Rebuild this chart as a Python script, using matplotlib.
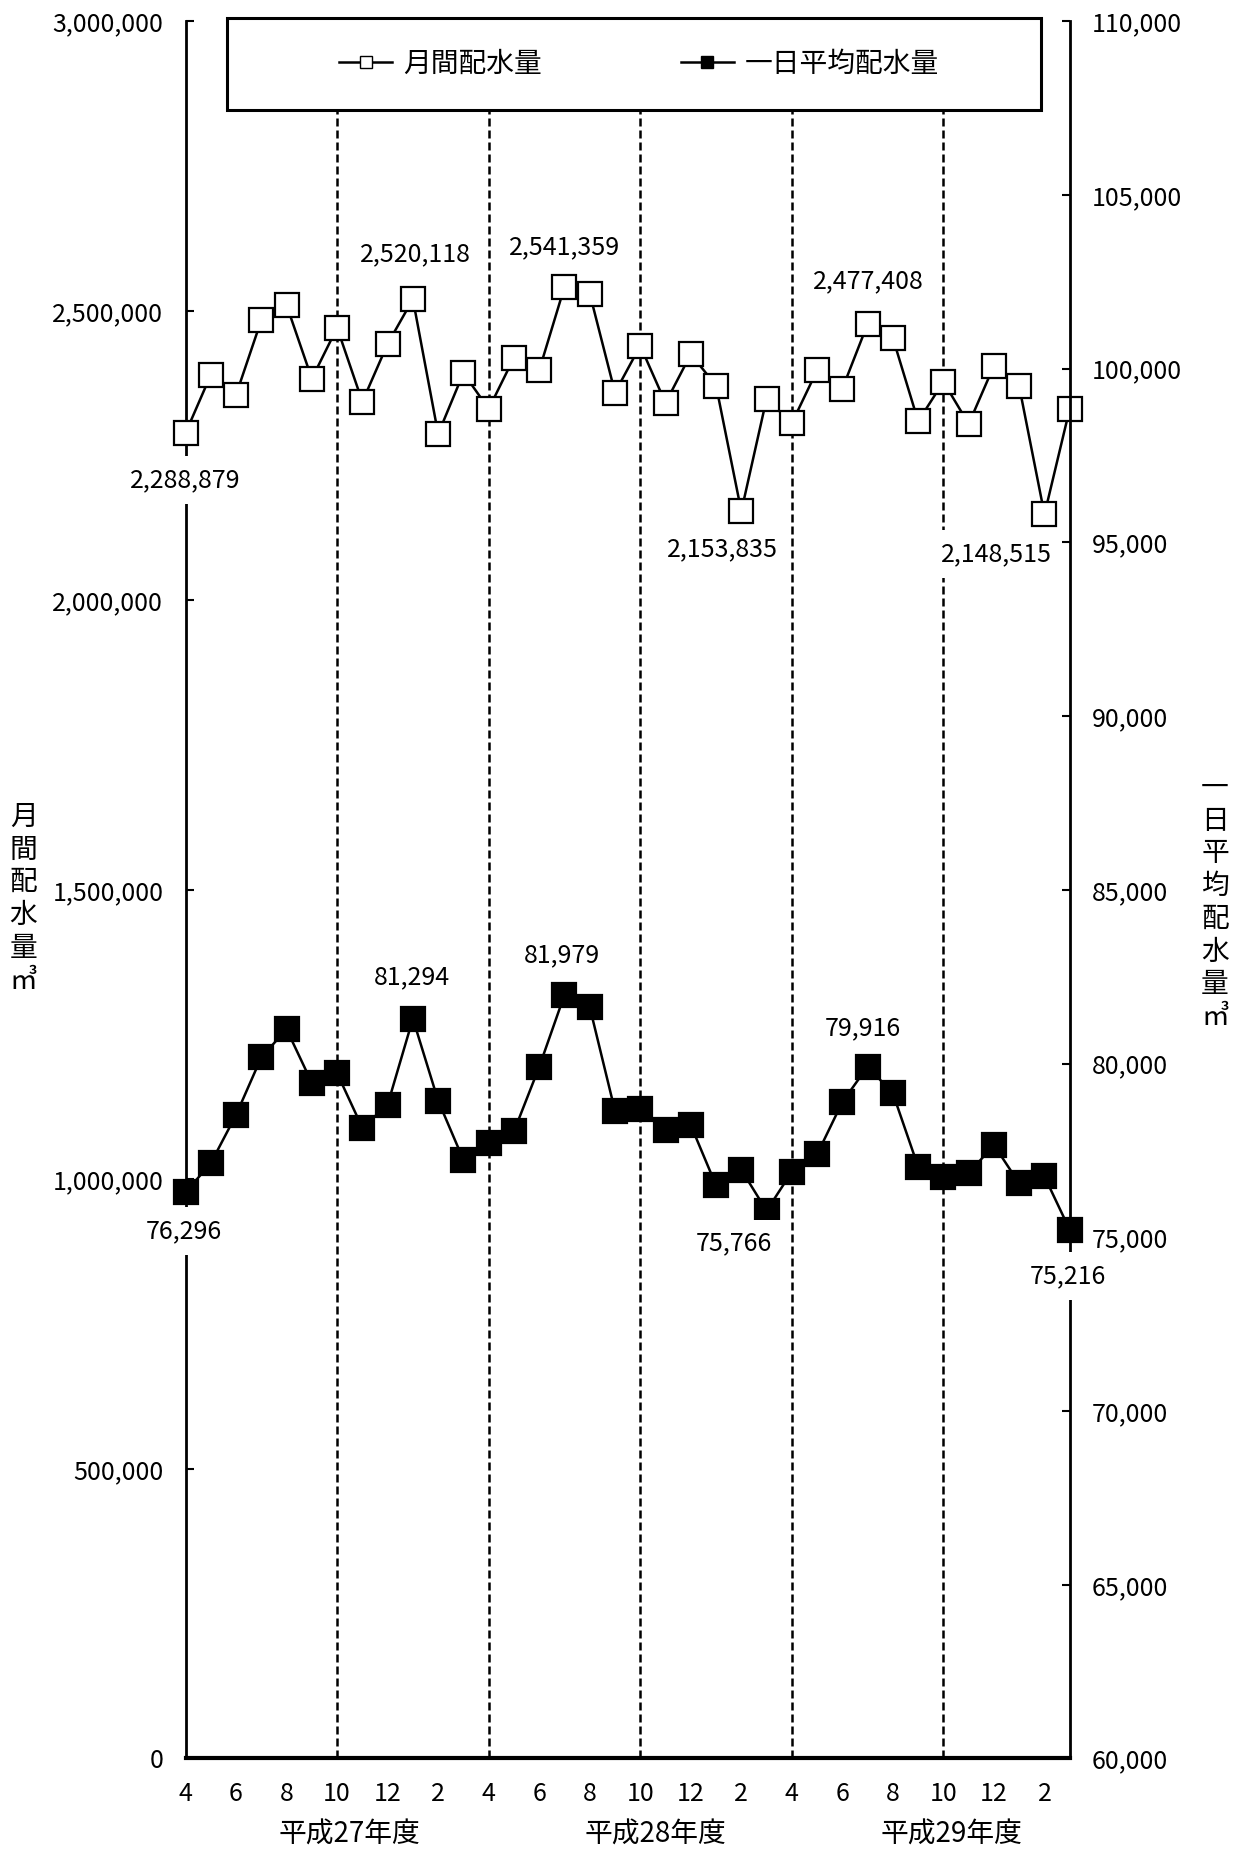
import numpy as np
import matplotlib
matplotlib.use("Agg")
import matplotlib.pyplot as plt
from matplotlib.lines import Line2D
from matplotlib.patches import Rectangle
from matplotlib.ticker import FuncFormatter
import matplotlib.transforms as mtransforms

plt.rcParams['font.family'] = ['Noto Sans CJK JP', 'DejaVu Sans']

# ---- data ----
month_labels = ["4", "", "6", "", "8", "", "10", "", "12", "", "2", ""] * 3
years = ["平成27年度", "平成28年度", "平成29年度"]

monthly = [2288879, 2389400, 2355000, 2484100, 2509900, 2382800,
           2470900, 2343000, 2443000, 2520118, 2287400, 2392700,
           2330500, 2419200, 2397400, 2541359, 2529800, 2358900,
           2439700, 2341000, 2425200, 2370900, 2153835, 2348300,
           2306000, 2397400, 2365600, 2477408, 2453000, 2309300,
           2377500, 2304600, 2405300, 2369500, 2148515, 2331100]

daily = [76296, 77133, 78524, 80181, 80990, 79448,
         79724, 78152, 78819, 81294, 78933, 77229,
         77705, 78048, 79905, 81979, 81629, 78638,
         78705, 78076, 78229, 76495, 76943, 75766,
         76886, 77390, 78895, 79916, 79143, 77029,
         76724, 76848, 77657, 76552, 76752, 75216]

series_names = ["月間配水量", "一日平均配水量"]
left_label = "月間配水量㎥"
right_label = "一日平均配水量㎥"

# annotated points: (index, offset px)
monthly_notes = [(0, (0, -47)), (9, (3, 45)), (15, (0, 40)),
                 (22, (-19, -38)), (27, (1, 43)), (34, (-48, -40))]
daily_notes = [(0, (-2, -39)), (9, (-1, 41)), (15, (-3, 40)),
               (23, (-33, -33)), (27, (-5, 38)), (35, (-2, -46))]

year_pos = [6.5, 18.6, 30.3]
fiscal_breaks = [6, 12, 18, 24, 30]

NUM_FS = 18
JP_FS = 20

fig = plt.figure(figsize=(12.41, 18.53), dpi=100)
ax1 = fig.add_axes([0.1495, 0.051, 0.7125, 0.9375])
ax2 = ax1.twinx()

x = np.arange(len(monthly))
ax1.set_xlim(0, len(monthly) - 1)
ax1.set_ylim(0, 3000000)
ax2.set_ylim(60000, 110000)
ax1.set_yticks(np.arange(0, 3000001, 500000))
ax2.set_yticks(np.arange(60000, 110001, 5000))
fmt = FuncFormatter(lambda v, p: f"{int(round(v)):,}")
ax1.yaxis.set_major_formatter(fmt)
ax2.yaxis.set_major_formatter(fmt)

ax1.set_xticks(x)
ax1.set_xticklabels(month_labels)
ax1.tick_params(axis='x', length=0, pad=16, labelsize=NUM_FS)
ax1.tick_params(axis='y', direction='in', length=6, width=1.5, pad=16, labelsize=NUM_FS)
ax2.tick_params(axis='y', direction='in', length=6, width=1.5, pad=16, labelsize=NUM_FS)

for ax in (ax1, ax2):
    ax.spines['top'].set_visible(False)
ax2.spines['left'].set_visible(False)
ax2.spines['bottom'].set_visible(False)
ax1.spines['right'].set_visible(False)
ax1.spines['left'].set_linewidth(2)
ax2.spines['right'].set_linewidth(2)
ax1.spines['bottom'].set_linewidth(3)

# dashed fiscal breaks
for b in fiscal_breaks:
    ax1.axvline(b, ymin=0, ymax=0.949, color='black', lw=1.8, ls=(0, (3.2, 1.6)), zorder=1)

ax1.plot(x, monthly, color='black', lw=1.8, marker='s', ms=17, mfc='white',
         mec='black', mew=1.6, zorder=3, clip_on=False)
ax2.plot(x, daily, color='black', lw=1.8, marker='s', ms=17, mfc='black',
         mec='black', mew=1.6, zorder=3, clip_on=False)

for i, (dx, dy) in monthly_notes:
    ax1.annotate(f"{monthly[i]:,}", (x[i], monthly[i]), xytext=(dx, dy),
                 textcoords='offset pixels', ha='center', va='center',
                 fontsize=NUM_FS, zorder=6, annotation_clip=False,
                 bbox=dict(fc='white', ec='none', pad=8))
for i, (dx, dy) in daily_notes:
    ax2.annotate(f"{daily[i]:,}", (x[i], daily[i]), xytext=(dx, dy),
                 textcoords='offset pixels', ha='center', va='center',
                 fontsize=NUM_FS, zorder=6, annotation_clip=False,
                 bbox=dict(fc='white', ec='none', pad=8))

# year labels
trans = mtransforms.blended_transform_factory(ax1.transData, ax1.transAxes)
for xp, yl in zip(year_pos, years):
    ax1.text(xp, -0.044, yl, transform=trans, ha='center', va='center', fontsize=JP_FS)

# axis titles (vertical stacked)
fig.text(0.019, 0.515, "\n".join(left_label), ha='center', va='center',
         fontsize=JP_FS, linespacing=1.12)
fig.text(0.979, 0.513, "\n".join(right_label), ha='center', va='center',
         fontsize=JP_FS, linespacing=1.12)

# legend box
rect = Rectangle((0.047, 0.949), 0.921, 0.053, transform=ax1.transAxes,
                 fc='white', ec='black', lw=2.2, zorder=7, clip_on=False)
ax1.add_patch(rect)
handles = [Line2D([], [], color='black', lw=1.8, marker='s', ms=9, mfc='white', mec='black'),
           Line2D([], [], color='black', lw=1.8, marker='s', ms=9, mfc='black', mec='black')]
leg = ax1.legend(handles, series_names, loc='center', bbox_to_anchor=(0.513, 0.9755),
                 bbox_transform=ax1.transAxes, ncol=2, frameon=False,
                 columnspacing=5.0, handlelength=1.9, handletextpad=0.4,
                 fontsize=JP_FS)
leg.set_zorder(8)

fig.savefig("out.png", dpi=100, facecolor='white')
